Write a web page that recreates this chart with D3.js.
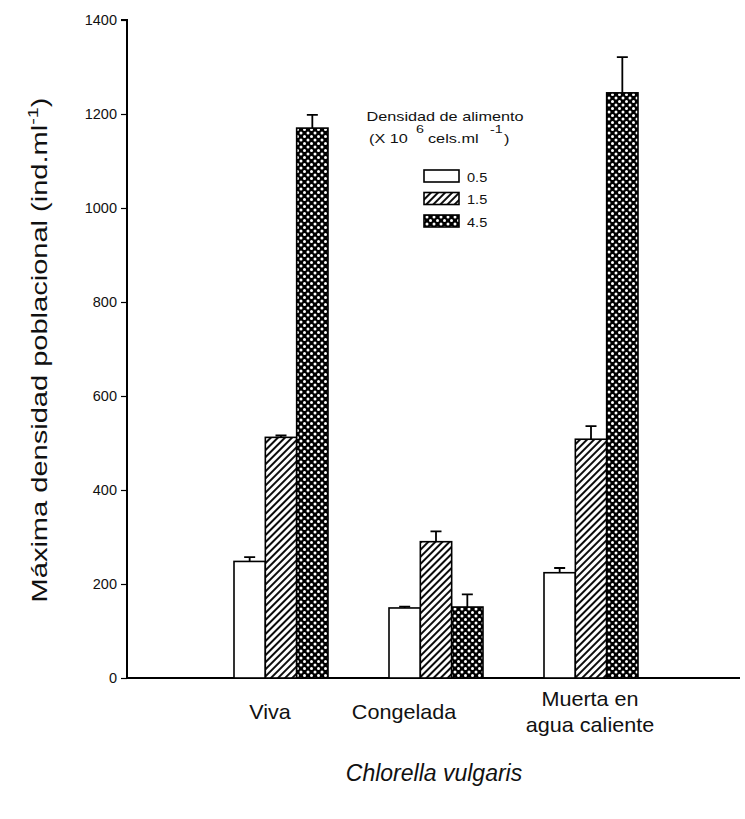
<!DOCTYPE html>
<html>
<head>
<meta charset="utf-8">
<script src="https://cdn.jsdelivr.net/npm/d3@7"></script>
<style>
  html, body { margin: 0; padding: 0; background: #fff; }
  text { font-family: "Liberation Sans", Arial, sans-serif; fill: #111; }
</style>
</head>
<body>
<svg id="chart" width="745" height="819"></svg>
<script>
// ---- data ----
const categories = ["Viva", "Congelada", "Muerta en agua caliente"];
const categoryLines = [["Viva"], ["Congelada"], ["Muerta en", "agua caliente"]];
const series = ["0.5", "1.5", "4.5"];
const values05 = [248, 149, 224];
const values15 = [512, 290, 508];
const values45 = [1170, 151, 1245];
const errors05 = [9, 3, 10];
const errors15 = [4, 22, 28];
const errors45 = [28, 27, 76];
const yTicks = [0, 200, 400, 600, 800, 1000, 1200, 1400];

const valueTable = [values05, values15, values45];
const errorTable = [errors05, errors15, errors45];

const svg = d3.select("#chart");
svg.append("rect").attr("width", 745).attr("height", 819).attr("fill", "#fff");

function wideText(parent, x, y, size, str, opts = {}) {
  const sx = opts.stretch || 1;
  const g = parent.append("g")
    .attr("transform", `translate(${x},${y})${opts.rotate ? ` rotate(${opts.rotate})` : ""} scale(${sx},1)`);
  const t = g.append("text").attr("x", 0).attr("y", 0)
    .attr("font-size", size).attr("text-anchor", opts.anchor || "middle");
  if (opts.italic) t.attr("font-style", "italic");
  if (str !== null) t.text(str);
  return t;
}

// ---- patterns ----
const defs = svg.append("defs");
const hatch = defs.append("pattern").attr("id", "hatch")
  .attr("patternUnits", "userSpaceOnUse").attr("width", 5).attr("height", 5)
  .attr("patternTransform", "rotate(45)");
hatch.append("rect").attr("width", 5).attr("height", 5).attr("fill", "#fff");
hatch.append("line").attr("x1", 1).attr("y1", 0).attr("x2", 1).attr("y2", 5)
  .attr("stroke", "#000").attr("stroke-width", 1.9);

const cross = defs.append("pattern").attr("id", "cross")
  .attr("patternUnits", "userSpaceOnUse").attr("width", 7).attr("height", 7);
cross.append("rect").attr("width", 7).attr("height", 7).attr("fill", "#000");
[[0,0],[7,0],[0,7],[7,7],[3.5,3.5]].forEach(([cx,cy]) => {
  cross.append("circle").attr("cx", cx).attr("cy", cy).attr("r", 1.5).attr("fill", "#fff");
});
const fills = ["#fff", "url(#hatch)", "url(#cross)"];

// ---- scales ----
const y = d3.scaleLinear().domain([0, 1400]).range([678, 20]);
const xGroup = d3.scalePoint().domain(categories).range([281, 591]);
const xSeries = d3.scaleBand().domain(series).range([-47, 47]).padding(0);
// label placement offsets relative to group centres (labels sit off-centre in the original)
const labelShift = [-11, -32, -1];

// ---- axes ----
const yAxis = d3.axisLeft(y).tickValues(yTicks).tickSize(6).tickPadding(4).tickFormat(d3.format("d"));
const gy = svg.append("g").attr("transform", "translate(127,0)").call(yAxis);
gy.select(".domain").attr("stroke", "#000").attr("stroke-width", 2).attr("d", "M-6,20H0V678");
gy.selectAll(".tick line").attr("stroke", "#000").attr("stroke-width", 1.2);
gy.selectAll(".tick text").attr("font-size", 14.5).attr("font-family", "Liberation Sans, Arial, sans-serif").attr("fill", "#111");

svg.append("line").attr("x1", 127).attr("x2", 740).attr("y1", y(0)).attr("y2", y(0))
  .attr("stroke", "#000").attr("stroke-width", 2);

// ---- bars ----
const barData = [];
categories.forEach((c, ci) => {
  series.forEach((s, si) => {
    barData.push({ c, s, si, v: valueTable[si][ci], e: errorTable[si][ci] });
  });
});

const bars = svg.append("g");
bars.selectAll(".err").data(barData).enter().append("path")
  .attr("class", "err")
  .attr("d", d => {
    const cx = xGroup(d.c) + xSeries(d.s) + xSeries.bandwidth() / 2;
    return `M${cx},${y(d.v)}V${y(d.v + d.e)}M${cx - 5.5},${y(d.v + d.e)}H${cx + 5.5}`;
  })
  .attr("stroke", "#000").attr("stroke-width", 1.8).attr("fill", "none");

bars.selectAll(".bar").data(barData).enter().append("rect")
  .attr("class", "bar")
  .attr("x", d => xGroup(d.c) + xSeries(d.s))
  .attr("width", xSeries.bandwidth())
  .attr("y", d => y(d.v))
  .attr("height", d => y(0) - y(d.v))
  .attr("fill", d => fills[d.si])
  .attr("stroke", "#000").attr("stroke-width", 1.6);

// ---- category labels ----
categories.forEach((c, ci) => {
  const lines = categoryLines[ci];
  const cx = xGroup(c) + labelShift[ci];
  if (lines.length === 1) {
    wideText(svg, cx, 719, 20, lines[0], { stretch: 1.08 });
  } else {
    lines.forEach((l, li) => wideText(svg, cx, 706 + li * 26, 20, l, { stretch: 1.08 }));
  }
});

// x title
wideText(svg, 434, 781, 23, "Chlorella vulgaris", { italic: true });

// y title
const yt = wideText(svg, 47, 350, 22, null, { rotate: -90, stretch: 1.32 });
yt.append("tspan").text("Máxima densidad poblacional (ind.ml");
yt.append("tspan").attr("font-size", 15).attr("dy", -9).text("-1");
yt.append("tspan").attr("dy", 9).text(")");

// ---- legend ----
const lg = svg.append("g");
wideText(lg, 445, 121, 12.5, "Densidad de alimento", { stretch: 1.3 });
wideText(lg, 369, 143, 12.5, "(X 10", { anchor: "start", stretch: 1.3 });
wideText(lg, 416, 133, 11, "6", { anchor: "start", stretch: 1.3 });
wideText(lg, 428, 143, 12.5, "cels.ml", { anchor: "start", stretch: 1.3 });
wideText(lg, 490, 133, 11, "-1", { anchor: "start", stretch: 1.3 });
wideText(lg, 504, 143, 12.5, ")", { anchor: "start", stretch: 1.3 });

series.forEach((s, si) => {
  const yy = 170 + si * 22.5;
  lg.append("rect").attr("x", 424).attr("y", yy).attr("width", 35).attr("height", 12)
    .attr("fill", fills[si]).attr("stroke", "#000").attr("stroke-width", 1.6);
  wideText(lg, 467, yy + 11.5, 13, s, { anchor: "start", stretch: 1.12 });
});
</script>
</body>
</html>
